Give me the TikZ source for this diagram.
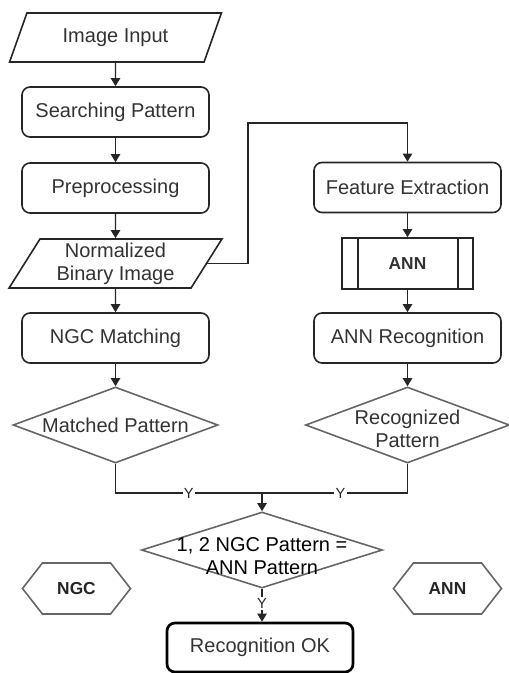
\documentclass[tikz,border=0pt]{standalone}
\usepackage{fontspec}
\setmainfont{Liberation Sans}
\usetikzlibrary{shapes.geometric,shapes.symbols,arrows.meta}
\newcommand\pxl{0.75pt}
\begin{document}
\begin{tikzpicture}[x=0.75pt,y=-0.75pt,
  base/.style={font=\fontsize{15}{17.3}\selectfont, text=black!80, align=center},
  proc/.style={base, draw=black!85, line width=1.2pt, rounded corners=6pt, minimum width=187*\pxl, minimum height=50*\pxl, inner sep=0pt},
  io/.style={base, trapezium, trapezium left angle=60, trapezium right angle=120, trapezium stretches=true, draw=black!85, line width=1.2pt, minimum width=213*\pxl, minimum height=49*\pxl, inner sep=0pt},
  decis/.style={diamond, draw=black!60, line width=1.2pt, inner sep=0pt},
  hexa/.style={signal, signal to=east and west, signal pointer angle=104, draw=black!60, line width=1.2pt, minimum width=108*\pxl, minimum height=51*\pxl, inner sep=0pt, font=\fontsize{13}{15}\selectfont\bfseries, text=black!85},
  arr/.style={-{Triangle[length=6pt,width=7pt]}, line width=1pt, draw=black!85},
  conn/.style={line width=1pt, draw=black!85},
  ylab/.style={fill=white, inner sep=1pt, font=\fontsize{11}{12}\selectfont, text=black!85}
]
\useasboundingbox (0,0) rectangle (508,673);

% left column
\node[io] (inp) at (115.5,37.5) {Image Input};
\node[proc] (sp) at (115.5,112) {Searching Pattern};
\node[proc] (pre) at (115.5,188) {Preprocessing};
\node[io] (norm) at (115.5,263.5) {Normalized\\Binary Image};
\node[proc] (ngc) at (115.5,338) {NGC Matching};
\node[decis, minimum width=205*\pxl, minimum height=76*\pxl] (mp) at (115.5,425) {};
\node[base] at (mp) {Matched Pattern};

% right column
\node[proc] (fe) at (407.5,187.5) {Feature Extraction};
\node[base, draw=black!85, line width=1.2pt, minimum width=131*\pxl, minimum height=51*\pxl, inner sep=0pt, font=\fontsize{13}{15}\selectfont\bfseries] (ann) at (407.5,263.5) {ANN};
\draw[line width=1.2pt, draw=black!85] ([xshift=17*\pxl]ann.north west) -- ([xshift=17*\pxl]ann.south west);
\draw[line width=1.2pt, draw=black!85] ([xshift=-16*\pxl]ann.north east) -- ([xshift=-16*\pxl]ann.south east);
\node[proc] (annr) at (407.5,338) {ANN Recognition};
\node[decis, minimum width=204*\pxl, minimum height=76*\pxl] (rp) at (407.5,425) {};
\node[base] at ([yshift=-4*\pxl]rp.center) {Recognized\\Pattern};

% bottom
\node[decis, minimum width=241*\pxl, minimum height=76*\pxl] (dec) at (262,550) {};
\node[base, text=black] at ([yshift=-6*\pxl]dec.center) {1, 2 NGC Pattern =\\ANN Pattern};
\node[base, draw=black, line width=2pt, rounded corners=6pt, minimum width=186*\pxl, minimum height=49*\pxl, inner sep=0pt] (ok) at (260,647.5) {Recognition OK};
\node[hexa] (hngc) at (76.5,588.5) {NGC};
\node[hexa] (hann) at (447.5,588.5) {ANN};

% connectors
\draw[arr] (inp.south) -- (sp.north);
\draw[arr] (sp.south) -- (pre.north);
\draw[arr] (pre.south) -- (norm.north);
\draw[arr] (norm.south) -- (ngc.north);
\draw[arr] (ngc.south) -- (mp.north);
\coordinate (bend) at (248,123);
\draw[arr] (norm.east) -| (bend) -| (fe.north);
\draw[arr] (fe.south) -- (ann.north);
\draw[arr] (ann.south) -- (annr.north);
\draw[arr] (annr.south) -- (rp.north);
\coordinate (join) at (262,493);
\draw[conn] (mp.south) |- (join) node[ylab, pos=0.75] {Y};
\draw[conn] (rp.south) |- (join) node[ylab, pos=0.73] {Y};
\draw[arr] (join) -- (dec.north);
\draw[arr] (dec.south) -- (dec.south |- ok.north) node[ylab, pos=0.45] {Y};
\end{tikzpicture}
\end{document}
